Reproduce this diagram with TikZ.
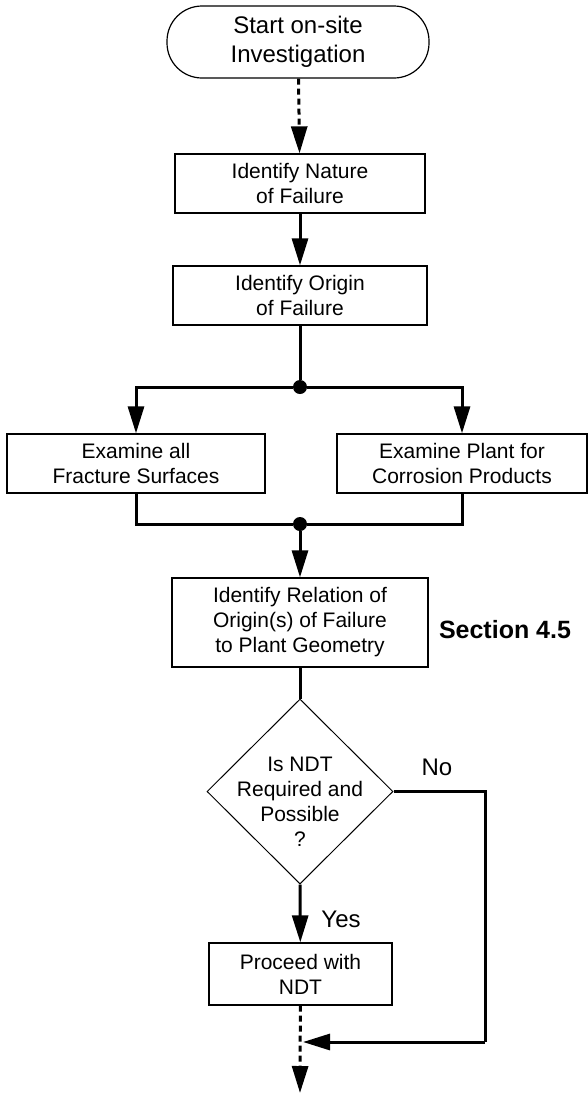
\documentclass[tikz,border=0pt]{standalone}
\usepackage{fontspec}
\setmainfont{Liberation Sans}
\usetikzlibrary{arrows.meta,positioning,shapes.geometric}

\begin{document}
\begin{tikzpicture}[x=1pt,y=-1pt,
  every node/.style={font=\fontsize{21}{25}\selectfont},
  term/.style={draw,line width=1.2pt,rounded corners=35pt,minimum width=262pt,minimum height=72pt,align=center,font=\fontsize{24}{29}\selectfont},
  stepbox/.style={draw,line width=1.3pt,minimum height=59pt,align=center},
  decide/.style={draw,line width=1pt,diamond,minimum width=186pt,minimum height=185pt,inner sep=0pt},
  junction/.style={circle,fill,inner sep=0pt,minimum size=14pt},
  arr/.style={-{Triangle[length=27pt,width=16pt]},line width=3pt},
  line/.style={line width=3pt},
  dasharr/.style={arr,dash pattern=on 6pt off 4pt},
  answer/.style={font=\fontsize{24}{28}\selectfont}]
\useasboundingbox (0,0) rectangle (588,1093);
% main column
\node[term] (start) at (298,42) {Start on-site\\Investigation};
\node[stepbox,minimum width=250pt] (nature) at (300,183.5) {Identify Nature\\of Failure};
\node[stepbox,minimum width=254pt] (origin) at (300,295.5) {Identify Origin\\of Failure};
\node[junction] (split) at (300,387) {};
\node[stepbox,minimum width=258pt] (fract) at (136,463.5) {Examine all\\Fracture Surfaces};
\node[stepbox,minimum width=250pt] (corr) at (462,463.5) {Examine Plant for\\Corrosion Products};
\node[junction] (merge) at (300,524) {};
\node[stepbox,minimum width=256pt,minimum height=89pt] (relate) at (300,622.5) {Identify Relation of\\Origin(s) of Failure\\to Plant Geometry};
\node[font=\fontsize{25}{29}\selectfont\bfseries] (sect) at (505,630) {Section 4.5};
\node[decide] (ndt) at (300,791.5) {};
\node[align=center] (ndttext) at (300,802) {Is NDT\\Required and\\Possible\\?};
\node[stepbox,minimum width=183pt,minimum height=62pt] (proceed) at (300.5,974) {Proceed with\\NDT};
\node[answer] (no) at (437,767) {No};
\node[answer] (yes) at (341,919) {Yes};
\coordinate (join) at (300,1042);
\coordinate (corner) at (485,1042);
\coordinate (finish) at (300,1093);
% connectors
\draw[dasharr] (start) -- (nature);
\draw[arr] (nature) -- (origin);
\draw[line] (origin) -- (split);
\draw[arr] (split) -| (fract);
\draw[arr] (split) -| (corr);
\draw[line] (fract.south) |- (merge) -| (corr.south);
\draw[arr] (merge) -- (relate);
\draw[line] (relate) -- (ndt.north);
\draw[arr] (ndt.south) -- (proceed);
\draw[line] (ndt.east) -| (corner);
\draw[arr] (corner) -- ([xshift=3pt]join);
\draw[dasharr] (proceed) -- (finish);
\end{tikzpicture}
\end{document}
